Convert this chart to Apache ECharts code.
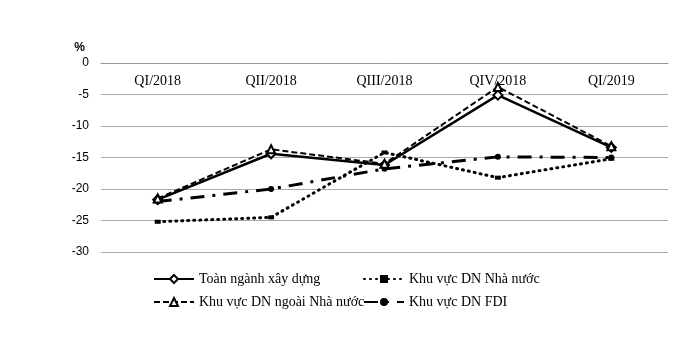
<!DOCTYPE html>
<html><head><meta charset="utf-8">
<script src="https://cdn.jsdelivr.net/npm/echarts@6/dist/echarts.min.js"></script>
<style>html,body{margin:0;padding:0;background:#fff}#c{width:700px;height:337px}</style>
</head><body><div id="c"></div>
<script>
const categories = ['QI/2018','QII/2018','QIII/2018','QIV/2018','QI/2019'];
const toanNganh = [-21.7, -14.4, -16.2, -5.1, -13.4];
const nhaNuoc = [-25.2, -24.5, -14.2, -18.2, -15.2];
const ngoaiNhaNuoc = [-21.5, -13.7, -16.0, -3.8, -13.2];
const fdi = [-22.0, -20.0, -16.8, -14.9, -15.0];
const yTicks = {min: -30, max: 0, interval: 5};
const names = ['Toàn ngành xây dựng','Khu vực DN Nhà nước','Khu vực DN ngoài Nhà nước','Khu vực DN FDI'];

const chart = echarts.init(document.getElementById('c'));
const legendBase = {itemWidth: 40, itemHeight: 10, itemGap: 4, textStyle: {fontFamily: 'Liberation Serif', fontSize: 14, color: '#000'}};
chart.setOption({
  animation: false,
  grid: {left: 101, right: 32, top: 63, bottom: 85},
  xAxis: {
    type: 'category', data: categories, boundaryGap: true, position: 'top',
    axisLine: {show: true, lineStyle: {color: '#999', width: 1}},
    axisTick: {show: false},
    axisLabel: {inside: true, fontFamily: 'Liberation Serif', fontSize: 14, color: '#000', margin: 11}
  },
  yAxis: {
    type: 'value', min: yTicks.min, max: yTicks.max, interval: yTicks.interval,
    name: '%', nameLocation: 'end', nameGap: 9,
    nameTextStyle: {fontFamily: 'Liberation Sans', fontSize: 12, fontWeight: 'bold', color: '#000', align: 'right', padding: [0, 16, 0, 0]},
    axisLine: {show: false}, axisTick: {show: false},
    axisLabel: {fontFamily: 'Liberation Sans', fontSize: 12, color: '#000', margin: 12},
    splitLine: {lineStyle: {color: '#aaa', width: 1}}
  },
  legend: [
    Object.assign({}, legendBase, {left: 148, top: 267, data: [names[0]]}),
    Object.assign({}, legendBase, {left: 358, top: 267, data: [names[1]]}),
    Object.assign({}, legendBase, {left: 148, top: 290, data: [names[2]]}),
    Object.assign({}, legendBase, {left: 358, top: 290, data: [names[3]]})
  ],
  series: [
    {name: names[0], type: 'line', data: toanNganh, symbol: 'diamond', symbolSize: 9,
     lineStyle: {color: '#000', width: 2.5}, itemStyle: {color: '#fff', borderColor: '#000', borderWidth: 2}, z: 4},
    {name: names[1], type: 'line', data: nhaNuoc, symbol: 'rect', symbolSize: [6, 4],
     lineStyle: {color: '#000', width: 3, type: [1, 5], cap: 'round'}, itemStyle: {color: '#000'}, z: 3},
    {name: names[2], type: 'line', data: ngoaiNhaNuoc, symbol: 'triangle', symbolSize: 8,
     lineStyle: {color: '#000', width: 2, type: [6, 3]}, itemStyle: {color: '#fff', borderColor: '#000', borderWidth: 2}, z: 5},
    {name: names[3], type: 'line', data: fdi, symbol: 'circle', symbolSize: 6,
     lineStyle: {color: '#000', width: 3, type: [14, 8, 3, 8]}, itemStyle: {color: '#000'}, z: 2}
  ]
});
</script></body></html>
